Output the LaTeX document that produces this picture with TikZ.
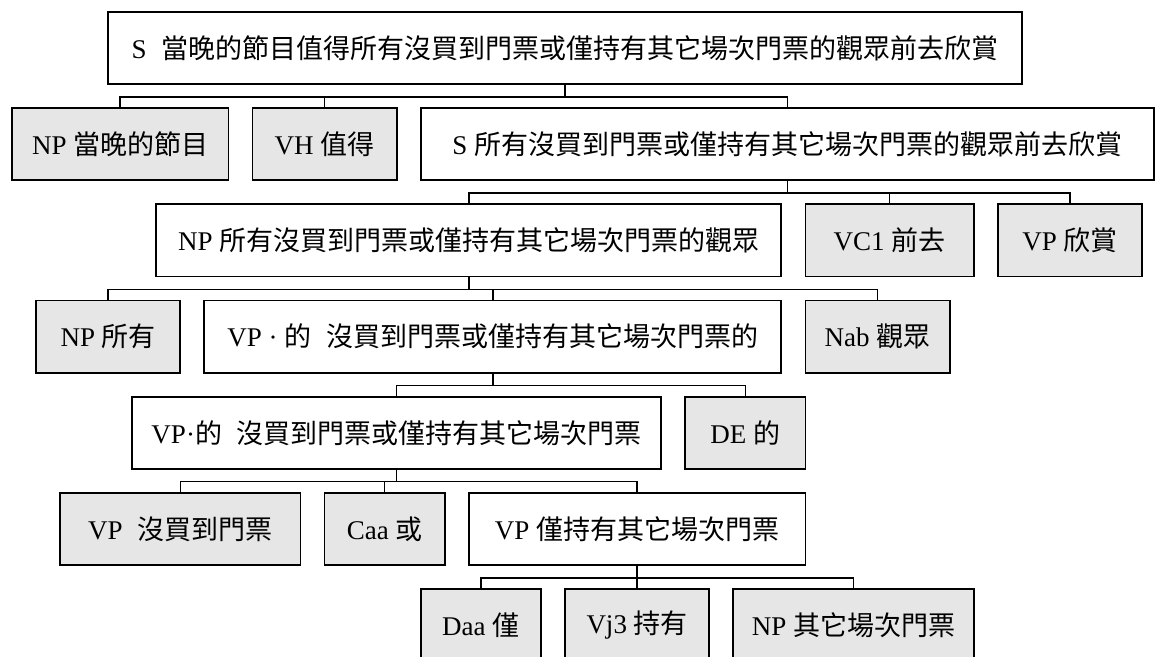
\documentclass[tikz,border=0pt]{standalone}
\usepackage{fontspec}
\setmainfont{Liberation Serif}
\newfontfamily\cjkfont{Noto Sans CJK TC}
\newcommand\zh[1]{{\cjkfont #1}}
\definecolor{boxgray}{RGB}{230,230,230}
\begin{document}
\begin{tikzpicture}[x=24.04pt,y=-24.04pt,
  box/.style={draw=black, line width=1.8pt, rectangle, inner sep=0pt,
    minimum height=72.1pt, font=\fontsize{27}{32}\selectfont, anchor=center},
  bw/.style={minimum width=#1*24.04pt},
  leaf/.style={box, fill=boxgray},
  phrase/.style={box, fill=white},
  link/.style={line width=1.5pt, draw=black}]
\clip (0,0) rectangle (48.04,27.29);
\fill[white] (0,0) rectangle (48.04,27.29);
% level 1
\node[phrase, bw=38] (s1) at (23.5,2) {S\hspace{.3em} \zh{當晚的節目值得所有沒買到門票或僅持有其它場次門票的觀眾前去欣賞}};
% level 2
\node[leaf, bw=9] (np1) at (5,6) {NP \zh{當晚的節目}};
\node[leaf, bw=6] (vh) at (13.5,6) {VH \zh{值得}};
\node[phrase, bw=30.5] (s2) at (32.75,6) {S \zh{所有沒買到門票或僅持有其它場次門票的觀眾前去欣賞}};
% level 3
\node[phrase, bw=26] (np2) at (19.5,10) {NP \zh{所有沒買到門票或僅持有其它場次門票的觀眾}};
\node[leaf, bw=7] (vc1) at (37,10) {VC1 \zh{前去}};
\node[leaf, bw=6] (vpx) at (44.5,10) {VP \zh{欣賞}};
% level 4
\node[leaf, bw=6] (npsy) at (4.5,14) {NP \zh{所有}};
\node[phrase, bw=24] (vpde) at (20.5,14) {VP · \zh{的}\hspace{.3em} \zh{沒買到門票或僅持有其它場次門票的}};
\node[leaf, bw=6] (nab) at (36.5,14) {Nab \zh{觀眾}};
% level 5
\node[phrase, bw=22] (vpde2) at (16.5,18) {VP·\zh{的}\hspace{.3em} \zh{沒買到門票或僅持有其它場次門票}};
\node[leaf, bw=5] (de) at (31,18) {DE \zh{的}};
% level 6
\node[leaf, bw=10] (vpmm) at (7.5,22) {VP\hspace{.3em} \zh{沒買到門票}};
\node[leaf, bw=5] (caa) at (16,22) {Caa \zh{或}};
\node[phrase, bw=14] (vpjin) at (26.5,22) {VP \zh{僅持有其它場次門票}};
% level 7
\node[leaf, bw=5] (daa) at (20,26) {Daa \zh{僅}};
\node[leaf, bw=6] (vj3) at (26.5,26) {Vj3 \zh{持有}};
\node[leaf, bw=10] (npqt) at (35.5,26) {NP \zh{其它場次門票}};
% connectors
\foreach \p/\c in {s1/np1, s1/vh, s1/s2,
                   s2/np2, s2/vc1, s2/vpx,
                   np2/npsy, np2/vpde, np2/nab,
                   vpde/vpde2, vpde/de,
                   vpde2/vpmm, vpde2/caa, vpde2/vpjin,
                   vpjin/daa, vpjin/vj3, vpjin/npqt}
  \draw[link] (\p.south) -- ++(0,0.5) -| (\c.north);
\end{tikzpicture}
\end{document}
